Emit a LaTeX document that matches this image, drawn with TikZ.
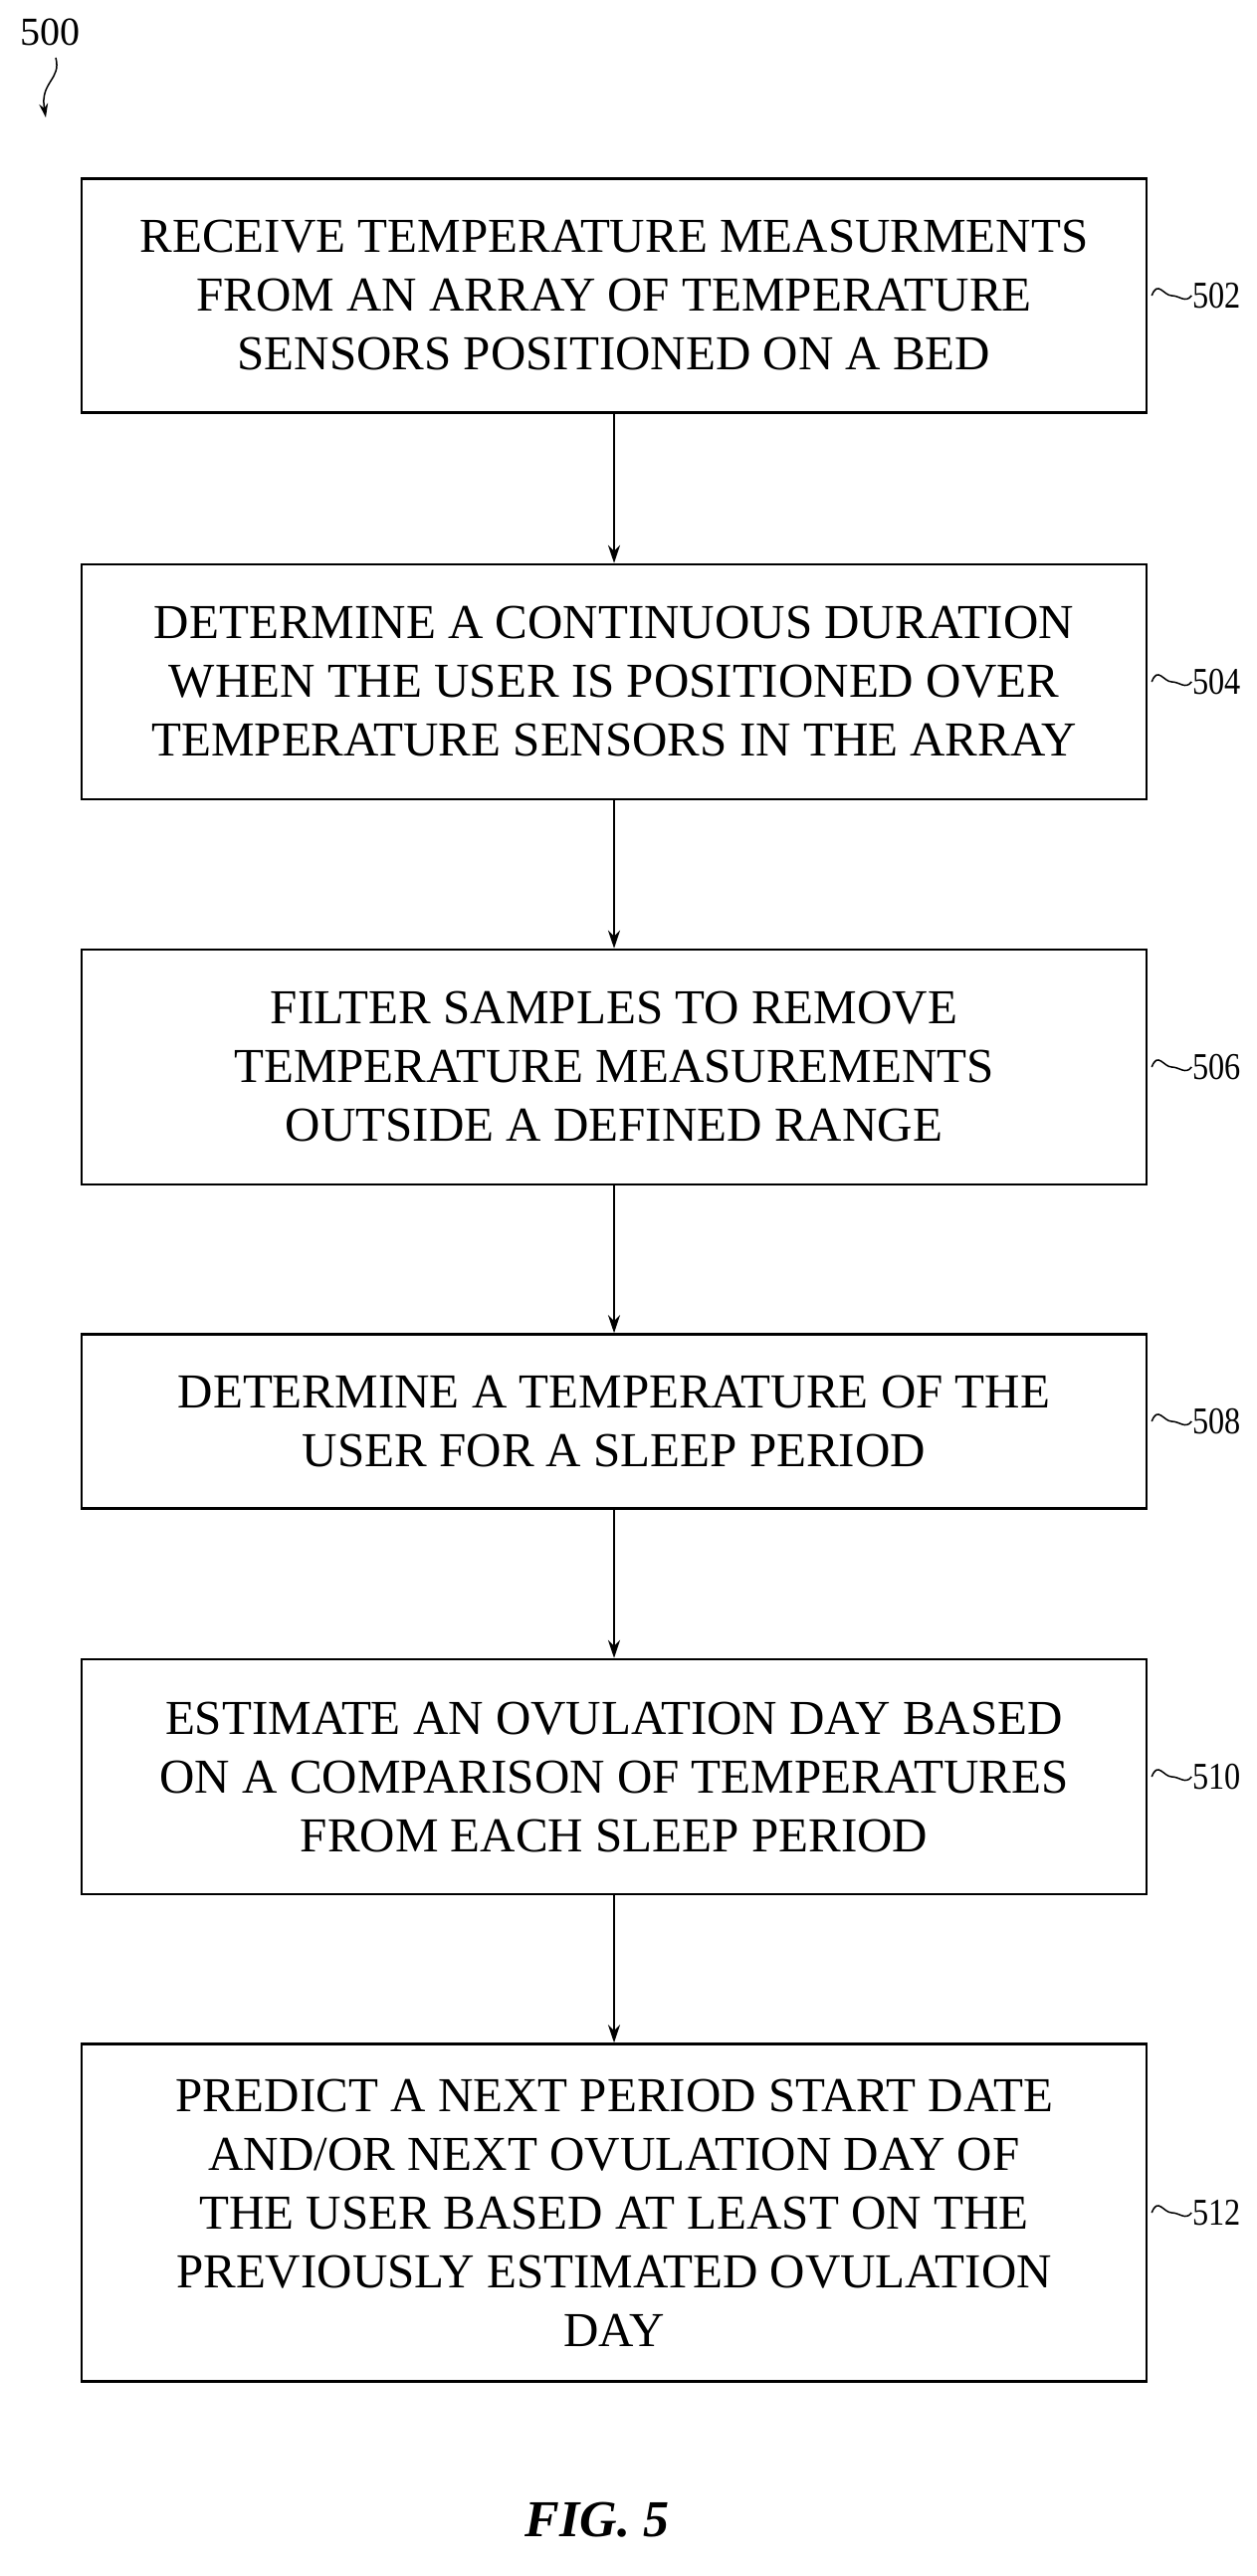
\documentclass[tikz,border=0pt]{standalone}
\usepackage{fontspec}
\setmainfont{Liberation Serif}
\usetikzlibrary{arrows.meta}
\begin{document}
\begin{tikzpicture}[x=1pt,y=-1pt,
  stepbox/.style={draw,line width=2.5pt,minimum width=1070pt,align=center,inner sep=0pt,
    font=\fontsize{49}{59}\selectfont},
  lab/.style={font=\fontsize{38}{48}\selectfont,anchor=west,xscale=0.85},
  conn/.style={-{Stealth[length=18pt,width=12pt]},line width=2pt}]
\useasboundingbox (0,0) rectangle (1262,2588);
\node[stepbox,minimum height=235pt] (b1) at (617,297) {RECEIVE TEMPERATURE MEASURMENTS\\FROM AN ARRAY OF TEMPERATURE\\SENSORS POSITIONED ON A BED};
\node[stepbox,minimum height=236pt] (b2) at (617,685) {DETERMINE A CONTINUOUS DURATION\\WHEN THE USER IS POSITIONED OVER\\TEMPERATURE SENSORS IN THE ARRAY};
\node[stepbox,minimum height=236pt] (b3) at (617,1072) {FILTER SAMPLES TO REMOVE\\TEMPERATURE MEASUREMENTS\\OUTSIDE A DEFINED RANGE};
\node[stepbox,minimum height=175pt] (b4) at (617,1428) {DETERMINE A TEMPERATURE OF THE\\USER FOR A SLEEP PERIOD};
\node[stepbox,minimum height=236pt] (b5) at (617,1785) {ESTIMATE AN OVULATION DAY BASED\\ON A COMPARISON OF TEMPERATURES\\FROM EACH SLEEP PERIOD};
\node[stepbox,minimum height=339pt] (b6) at (617,2223) {PREDICT A NEXT PERIOD START DATE\\AND/OR NEXT OVULATION DAY OF\\THE USER BASED AT LEAST ON THE\\PREVIOUSLY ESTIMATED OVULATION\\DAY};
\foreach \a/\b in {b1/b2,b2/b3,b3/b4,b4/b5,b5/b6} \draw[conn] (\a.south) -- (\b.north);
\foreach \n/\t in {b1/502,b2/504,b3/506,b4/508,b5/510,b6/512}{
  \draw[line width=1.5pt] (\n.east) ++(4,0) .. controls +(6,-16) and +(-8,0) .. ++(20,0) .. controls +(8,0) and +(-6,8) .. ++(20,0) coordinate (\n-l);
  \node[lab,inner sep=1pt] (\n-t) at (\n-l) {\t};
}
\node[font=\fontsize{40}{48}\selectfont] (n500) at (50,32) {500};
\coordinate (a500) at (46,118);
\draw[line width=1.5pt,-{Stealth[length=14pt,width=9pt]}] (56,58) .. controls (62,80) and (40,82) .. (a500);
\node[font=\bfseries\itshape\fontsize{52}{60}\selectfont] (fig) at (600,2532) {FIG. 5};
\end{tikzpicture}
\end{document}
